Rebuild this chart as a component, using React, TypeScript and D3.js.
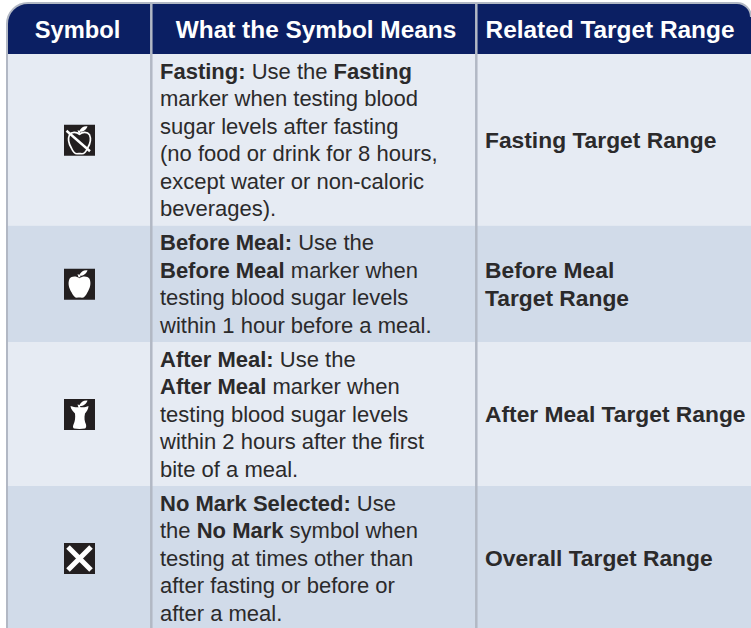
import React from 'react';
import * as d3 from 'd3';

const WIDTH = 751;
const HEIGHT = 628;
const HEADERS = ['Symbol', 'What the Symbol Means', 'Related Target Range'];
const SYMBOLS = ['fasting', 'before', 'after', 'none'];
// ** marks the bold runs
const MEANINGS = [
    ['**Fasting:** Use the **Fasting**', 'marker when testing blood', 'sugar levels after fasting', '(no food or drink for 8 hours,', 'except water or non-caloric', 'beverages).'],
    ['**Before Meal:** Use the', '**Before Meal** marker when', 'testing blood sugar levels', 'within 1 hour before a meal.'],
    ['**After Meal:** Use the', '**After Meal** marker when', 'testing blood sugar levels', 'within 2 hours after the first', 'bite of a meal.'],
    ['**No Mark Selected:** Use', 'the **No Mark** symbol when', 'testing at times other than', 'after fasting or before or', 'after a meal.'],
];
const RANGES = [
    ['Fasting Target Range'],
    ['Before Meal', 'Target Range'],
    ['After Meal Target Range'],
    ['Overall Target Range'],
];

const FONT = '"Liberation Sans", Arial, sans-serif';
const NAVY = '#0b1f63';
const RULE = '#b2b8c4';
const ROW_FILLS = ['#e6ebf3', '#d1dbe9', '#e6ebf3', '#d1dbe9'];
const TEXT = '#2b2a2b';
const LINE = 27.5;
const TABLE_LEFT = 7;
const TABLE_TOP = 3;
const HEAD_BOTTOM = 54;
const COLS = [TABLE_LEFT, 151.3, 476.3, WIDTH];

// line count drives the row height
const rowTops = d3.cumsum([HEAD_BOTTOM, ...MEANINGS.map((m) => m.length * LINE + 6.5)]);
const HEADER_X = [77.5, 316, 610];

function parseRuns(line: string) {
    return line.split('**').map((t, i) => ({ t, bold: i % 2 === 1 })).filter((r) => r.t);
}

const APPLE = 'M0 -6 C3 -8.5 8 -8.5 10 -5.5 C12 -1 10.5 4 8 8 C6.5 11.5 4.5 13.5 2.5 13.5 C1 13.5 -1 13 -2.5 13.5 C-4.5 13.5 -6.5 11.5 -8 8 C-10.5 4 -12 -1 -10 -5.5 C-8 -8.5 -3 -8.5 0 -6 Z';
const LEAF = 'M-1 -7 L-2 -10 L0 -9.5 C1.5 -12.5 4 -14.5 8 -14 C7 -10.5 4 -8.5 0.5 -8.5 L1 -7 Z';
const CORE = 'M-9 -8.5 C-5 -7 -2 -7 0 -7.5 C3 -7 6 -7 9 -8.5 C9 -5.5 7 -3 5.5 -1 C4.5 3 5 7 6.5 10 C7 12 6.5 13.5 5.5 14 C2 14.5 -2 14.5 -5.5 14 C-6.5 13.5 -7 12 -6 10 C-4.5 7 -4 3 -4.5 -1 C-6 -3 -9 -5.5 -9 -8.5 Z';

function Icon({ kind, cx, cy }: { kind: string; cx: number; cy: number }) {
    return (
        <g transform={`translate(${cx},${cy})`}>
            <rect x={-15.5} y={-15.5} width={31} height={31} fill="#231f20" />
            {kind === 'fasting' && (
                <g fill="none" stroke="#fff" strokeWidth={1.7}>
                    <path d={APPLE} />
                    <path d={LEAF} fill="#fff" stroke="none" />
                    <path d="M-13 -9.5 L10.5 11" strokeWidth={2.4} />
                </g>
            )}
            {kind === 'before' && (
                <g fill="#fff">
                    <path d={APPLE} />
                    <path d={LEAF} />
                </g>
            )}
            {kind === 'after' && (
                <g fill="#fff">
                    <path d={CORE} />
                    <path d={LEAF} />
                </g>
            )}
            {kind === 'none' && (
                <path d="M-11.5 -11.5 L11.5 11.5 M11.5 -11.5 L-11.5 11.5" stroke="#fff" strokeWidth={5} />
            )}
        </g>
    );
}

export default function App() {
    const clipId = 'tableClip';
    const outline = `M${TABLE_LEFT} ${HEIGHT} V24 A21 21 0 0 1 ${TABLE_LEFT + 21} ${TABLE_TOP} H${WIDTH - 14} A14 14 0 0 1 ${WIDTH} 17`;
    return (
        <svg width={WIDTH} height={HEIGHT} style={{ position: 'absolute', left: 0, top: 0 }} fontFamily={FONT}>
            <rect width={WIDTH} height={HEIGHT} fill="#fff" />
            <defs>
                <clipPath id={clipId}>
                    <path d={`${outline} V${HEIGHT} Z`} />
                </clipPath>
            </defs>
            <g clipPath={`url(#${clipId})`}>
                <rect x={TABLE_LEFT} y={TABLE_TOP} width={WIDTH} height={HEAD_BOTTOM - TABLE_TOP} fill={NAVY} />
                {MEANINGS.map((_, i) => (
                    <rect key={i} x={TABLE_LEFT} y={rowTops[i]} width={WIDTH} height={rowTops[i + 1] - rowTops[i]} fill={ROW_FILLS[i]} />
                ))}
                {rowTops.slice(0, 4).map((y, i) => (
                    <line key={i} x1={0} x2={WIDTH} y1={y} y2={y} stroke={RULE} strokeWidth={2.5} />
                ))}
                {COLS.slice(1, 3).map((x, i) => (
                    <line key={i} x1={x} x2={x} y1={0} y2={HEIGHT} stroke={RULE} strokeWidth={2.5} />
                ))}
            </g>
            <path d={outline} fill="none" stroke={RULE} strokeWidth={2} />

            {HEADERS.map((h, i) => (
                <text key={h} x={HEADER_X[i]} y={38} textAnchor="middle" fontSize={i === 0 ? 23.7 : 24.4} fontWeight={700} fill="#fff">{h}</text>
            ))}

            {SYMBOLS.map((s, i) => (
                <Icon key={s} kind={s} cx={79.5} cy={(rowTops[i] + rowTops[i + 1]) / 2 + 0.5} />
            ))}

            {MEANINGS.map((lines, i) => lines.map((line, j) => (
                <text key={`${i}-${j}`} x={160} y={rowTops[i] + 24.5 + j * LINE} fontSize={22} fill={TEXT}>
                    {parseRuns(line).map((r, k) => (
                        <tspan key={k} fontWeight={r.bold ? 700 : 400}>{r.t}</tspan>
                    ))}
                </text>
            )))}

            {RANGES.map((lines, i) => lines.map((line, j) => (
                <text key={line} x={485} y={(rowTops[i] + rowTops[i + 1]) / 2 + 8 + (j - (lines.length - 1) / 2) * LINE} fontSize={22.8} fontWeight={700} fill={TEXT}>{line}</text>
            )))}
        </svg>
    );
}
